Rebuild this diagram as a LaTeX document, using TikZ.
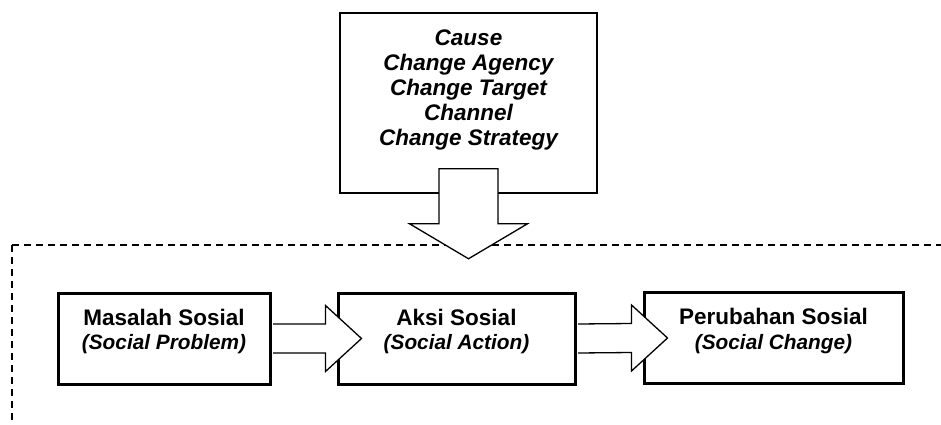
\documentclass[tikz,border=0pt]{standalone}
\usepackage{fontspec}
\setmainfont{Liberation Sans}
\usetikzlibrary{calc}

\tikzset{
  causebox/.style={draw, line width=1.5pt, minimum width=257pt, minimum height=180pt, inner sep=0pt},
  sosialbox/.style={draw, line width=3pt, minimum height=91pt, inner sep=0pt},
  boxtext/.style={align=center, inner sep=0pt, font=\fontsize{22.5}{24.5}\selectfont\bfseries},
  blockarrow/.style={draw, fill=white, line width=1.3pt, line join=miter},
  region/.style={line width=1.3pt, dash pattern=on 7pt off 5pt}
}

\begin{document}
\begin{tikzpicture}[x=1pt,y=-1pt]
        \useasboundingbox (0,0) rectangle (941,425);

        % Zona punteada
        \coordinate (regionleft) at (12,245);
        \coordinate (regionright) at (941,245);
        \coordinate (regionbottom) at (12,425);
        \draw[region] (regionleft) -- (regionright);
        \draw[region] (regionleft) -- (regionbottom);

        % Caja de factores
        \node[causebox] (cause) at (468.5,103) {};
        \node[boxtext, font=\fontsize{22.5}{25.2}\selectfont\bfseries\itshape] (causetext) at (468.5,90)
            {Cause\\Change Agency\\Change Target\\Channel\\Change Strategy};

        % Flecha hacia abajo
        \draw[blockarrow] ($(cause.south)+(-29.5,-25)$) -- ($(cause.south)+(-29.5,30)$)
            -- ($(cause.south)+(-59,30)$) -- ($(cause.south)+(0,65)$)
            -- ($(cause.south)+(59,30)$) -- ($(cause.south)+(29.5,30)$)
            -- ($(cause.south)+(29.5,-25)$) -- cycle;

        % Cajas del proceso
        \node[sosialbox, minimum width=212pt] (masalah) at (164,338.5) {};
        \node[sosialbox, minimum width=237pt] (aksi) at (456.5,338.5) {};
        \node[sosialbox, minimum width=259pt] (perubahan) at (773.5,338) {};

        \node[boxtext] (masalahtext) at ($(masalah.center)+(0,-7)$)
            {Masalah Sosial\\[0pt]{\fontsize{20.8}{24.5}\selectfont\itshape (Social Problem)}};
        \node[boxtext] (aksitext) at ($(aksi.center)+(0,-7)$)
            {Aksi Sosial\\[0pt]{\fontsize{20.8}{24.5}\selectfont\itshape (Social Action)}};
        \node[boxtext] (perubahantext) at ($(perubahan.center)+(0,-7)$)
            {Perubahan Sosial\\[0pt]{\fontsize{20.8}{24.5}\selectfont\itshape (Social Change)}};

        % Flechas entre cajas
        \foreach \a/\b in {masalah/aksi, aksi/perubahan}
            \draw[blockarrow] ($(\a.east)+(1.5,-14.5)$) -- ($(\b.west)+(-11,-14.5)$)
                -- ($(\b.west)+(-11,-33)$) -- ($(\b.west)+(25,0)$)
                -- ($(\b.west)+(-11,33)$) -- ($(\b.west)+(-11,14.5)$)
                -- ($(\a.east)+(1.5,14.5)$);
    \end{tikzpicture}
\end{document}
